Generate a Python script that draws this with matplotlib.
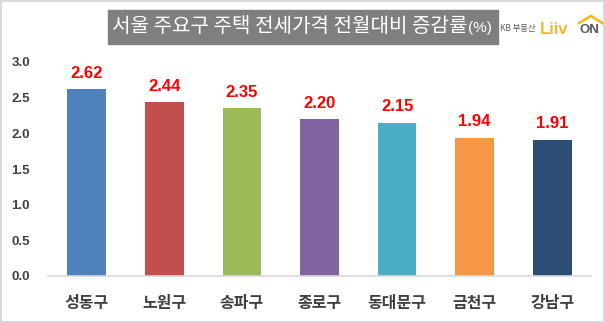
import matplotlib
matplotlib.use("Agg")
import matplotlib.pyplot as plt
from matplotlib.patches import Rectangle
from matplotlib.lines import Line2D

plt.rcParams['font.family'] = ['Noto Sans CJK KR', 'DejaVu Sans']

# 데이터
districts = ["성동구", "노원구", "송파구", "종로구", "동대문구", "금천구", "강남구"]
rates = [2.62, 2.44, 2.35, 2.20, 2.15, 1.94, 1.91]
bar_colors = ["#4F81BD", "#C0504D", "#9BBB59", "#8064A2", "#4BACC6", "#F79646", "#2C4D75"]
yticks = [0.0, 0.5, 1.0, 1.5, 2.0, 2.5, 3.0]
title = "서울 주요구 주택 전세가격 전월대비 증감률"

fig = plt.figure(figsize=(6.05, 3.23), dpi=100)
ax = fig.add_axes([48 / 605, 47 / 323, 543 / 605, 214 / 323])

x = range(len(districts))
bars = ax.bar(x, rates, width=0.5, color=bar_colors)
for b, v in zip(bars, rates):
    ax.annotate(f"{v:.2f}", (b.get_x() + b.get_width() / 2, v), xytext=(0, 6),
                textcoords="offset points", ha="center", va="bottom",
                color="#FF0000", fontsize=12, fontweight="bold", family="Liberation Sans")

ax.set_xlim(-0.5, len(districts) - 0.5)
ax.set_ylim(0, 3.0)
ax.set_yticks(yticks)
ax.set_yticklabels([f"{t:.1f}" for t in yticks], family="Liberation Sans",
                   fontweight="bold", fontsize=9.5, color="#404040")
ax.set_xticks(list(x))
ax.set_xticklabels(districts, fontweight="bold", fontsize=11.5, color="#404040")
ax.tick_params(axis="y", length=0, pad=13)
ax.tick_params(axis="x", length=0, pad=14)
for s in ["top", "right", "left"]:
    ax.spines[s].set_visible(False)
ax.spines["bottom"].set_color("#D9D9D9")
ax.spines["bottom"].set_linewidth(1.2)

# 제목 박스
fig.patches.append(Rectangle((108 / 605, 1 - 44 / 323), 390 / 605, 34 / 323,
                             transform=fig.transFigure, color="#7F7F7F", zorder=0))
t_main = fig.text(112 / 605, 1 - 27 / 323, title, color="white", fontsize=14.5,
                  ha="left", va="center")
renderer = fig.canvas.get_renderer()
bb = t_main.get_window_extent(renderer=renderer)
fig.text(bb.x1 / fig.bbox.width + 1 / 605, 1 - 28 / 323, "(%)", color="white", fontsize=11,
         ha="left", va="center", family="Liberation Sans")

# 로고
fig.text(500 / 605, 1 - 29 / 323, "KB 부동산", color="#595959", fontsize=6,
         ha="left", va="center")
fig.text(540 / 605, 1 - 30 / 323, "Liiv", color="#F6B92B", fontsize=12,
         ha="left", va="center", fontweight="bold", family="Liberation Sans")
fig.text(579 / 605, 1 - 30 / 323, "ON", color="#5A5A5A", fontsize=9.5,
         ha="left", va="center", fontweight="bold", family="Liberation Sans")
fig.lines.append(Line2D([579 / 605, 591 / 605, 602 / 605], [1 - 23 / 323, 1 - 16 / 323, 1 - 23 / 323],
                        transform=fig.transFigure, color="#F6B92B", linewidth=2))

# 외곽선
fig.patches.append(Rectangle((0.001, 0.002), 0.997, 0.995, transform=fig.transFigure,
                             fill=False, edgecolor="#D9D9D9", linewidth=1.5))

fig.savefig("out.png", dpi=100)
